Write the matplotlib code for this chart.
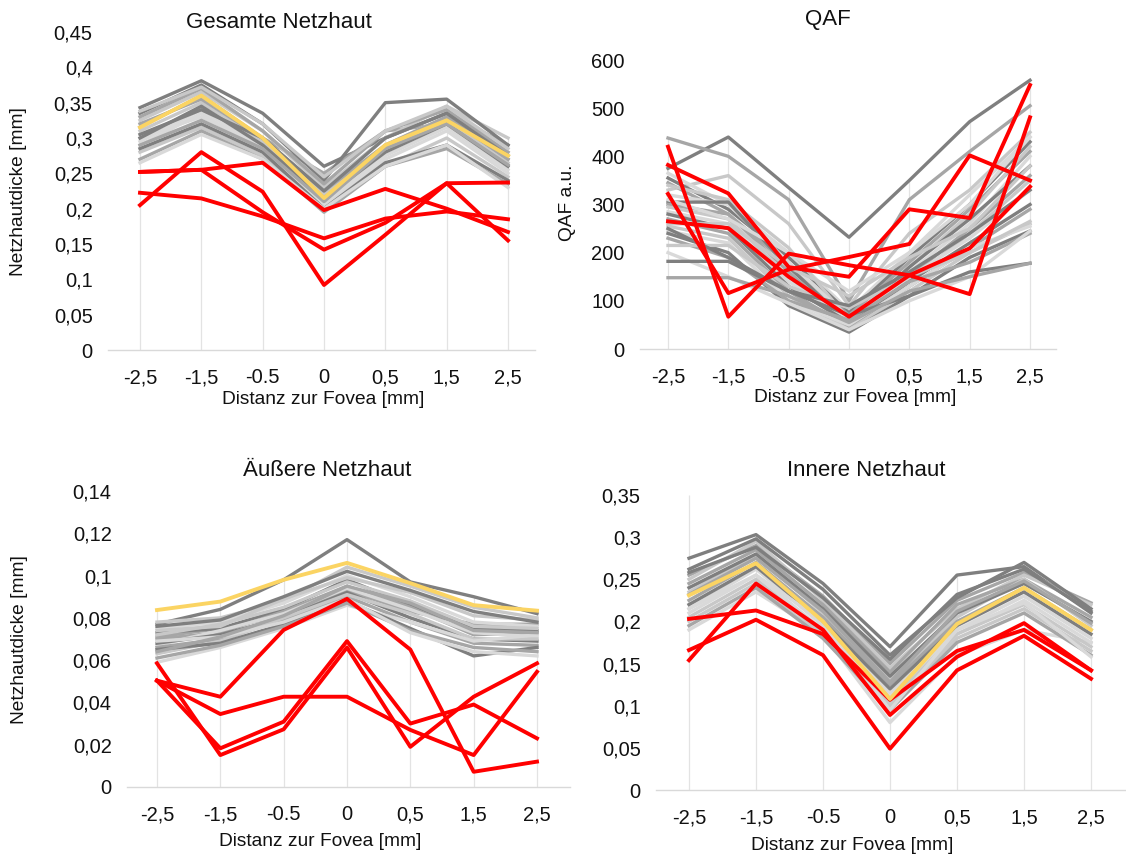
import matplotlib
matplotlib.use("Agg")
import matplotlib.pyplot as plt
from matplotlib.ticker import FuncFormatter, MultipleLocator

# ---- data -------------------------------------------------------------
positions = ["-2,5", "-1,5", "-0.5", "0", "0,5", "1,5", "2,5"]

gesamt_gray = [
    [0.343, 0.381, 0.335, 0.260, 0.300, 0.335, 0.290],
    [0.315, 0.360, 0.300, 0.250, 0.310, 0.320, 0.270],
    [0.325, 0.365, 0.310, 0.230, 0.300, 0.345, 0.300],
    [0.300, 0.330, 0.290, 0.215, 0.290, 0.330, 0.280],
    [0.335, 0.375, 0.320, 0.240, 0.350, 0.355, 0.290],
    [0.330, 0.370, 0.310, 0.235, 0.310, 0.340, 0.280],
    [0.310, 0.350, 0.295, 0.220, 0.285, 0.325, 0.265],
    [0.295, 0.340, 0.285, 0.210, 0.275, 0.315, 0.255],
    [0.300, 0.345, 0.290, 0.215, 0.280, 0.320, 0.260],
    [0.320, 0.355, 0.300, 0.225, 0.290, 0.330, 0.270],
    [0.280, 0.315, 0.275, 0.200, 0.260, 0.300, 0.245],
    [0.290, 0.335, 0.280, 0.205, 0.270, 0.310, 0.250],
    [0.285, 0.320, 0.280, 0.200, 0.265, 0.290, 0.240],
    [0.270, 0.310, 0.270, 0.195, 0.260, 0.285, 0.235],
    [0.338, 0.372, 0.320, 0.245, 0.310, 0.345, 0.285],
    [0.265, 0.305, 0.270, 0.200, 0.260, 0.290, 0.230],
    [0.305, 0.340, 0.300, 0.225, 0.300, 0.335, 0.275],
    [0.290, 0.325, 0.285, 0.210, 0.285, 0.320, 0.262],
]
gesamt_red = [
    [0.205, 0.280, 0.224, 0.092, 0.163, 0.236, 0.155],
    [0.252, 0.255, 0.265, 0.198, 0.228, 0.200, 0.167],
    [0.252, 0.255, 0.195, 0.142, 0.180, 0.236, 0.237],
    [0.2225, 0.2145, 0.189, 0.158, 0.186, 0.196, 0.185],
]
gesamt_mean = [0.315, 0.360, 0.300, 0.215, 0.290, 0.325, 0.275]

qaf_gray = [
    [375, 440, 335, 232, 350, 472, 558],
    [438, 400, 310, 100, 310, 410, 505],
    [330, 360, 260, 90, 240, 330, 450],
    [365, 300, 200, 80, 200, 320, 440],
    [355, 290, 190, 75, 190, 300, 430],
    [345, 280, 175, 70, 180, 290, 410],
    [340, 310, 210, 60, 170, 280, 420],
    [320, 300, 180, 65, 160, 260, 400],
    [305, 305, 170, 55, 170, 270, 380],
    [300, 280, 160, 50, 150, 250, 360],
    [295, 270, 150, 45, 140, 240, 350],
    [285, 260, 140, 60, 150, 230, 330],
    [280, 250, 130, 55, 140, 220, 300],
    [270, 240, 120, 45, 130, 210, 290],
    [255, 230, 110, 40, 120, 200, 260],
    [245, 220, 100, 50, 130, 210, 255],
    [240, 200, 90, 35, 110, 190, 245],
    [230, 190, 100, 60, 140, 180, 240],
    [215, 215, 130, 85, 150, 200, 265],
    [200, 150, 95, 40, 100, 150, 245],
    [182, 182, 120, 70, 110, 160, 178],
    [148, 148, 110, 55, 120, 150, 178],
    [260, 260, 170, 110, 190, 250, 380],
    [310, 270, 200, 120, 200, 300, 440],
    [250, 190, 120, 90, 160, 240, 330],
]
qaf_red = [
    [420, 67, 198, 174, 153, 114, 481],
    [382, 323, 170, 150, 290, 272, 548],
    [322, 116, 165, 191, 218, 402, 350],
    [265, 251, 150, 67, 153, 209, 337],
]

aussen_gray = [
    [0.077, 0.084, 0.098, 0.117, 0.097, 0.090, 0.082],
    [0.071, 0.075, 0.081, 0.093, 0.083, 0.077, 0.077],
    [0.078, 0.080, 0.088, 0.104, 0.095, 0.085, 0.080],
    [0.075, 0.078, 0.087, 0.100, 0.090, 0.078, 0.076],
    [0.073, 0.075, 0.084, 0.098, 0.086, 0.075, 0.074],
    [0.070, 0.073, 0.083, 0.095, 0.085, 0.072, 0.073],
    [0.072, 0.077, 0.085, 0.097, 0.088, 0.076, 0.075],
    [0.067, 0.074, 0.082, 0.094, 0.084, 0.073, 0.071],
    [0.068, 0.072, 0.080, 0.092, 0.080, 0.070, 0.069],
    [0.066, 0.070, 0.079, 0.090, 0.078, 0.068, 0.067],
    [0.063, 0.069, 0.080, 0.091, 0.082, 0.070, 0.070],
    [0.059, 0.066, 0.075, 0.086, 0.078, 0.069, 0.072],
    [0.065, 0.068, 0.077, 0.088, 0.075, 0.062, 0.066],
    [0.061, 0.067, 0.076, 0.087, 0.074, 0.066, 0.064],
    [0.074, 0.076, 0.089, 0.099, 0.092, 0.081, 0.079],
    [0.069, 0.071, 0.078, 0.089, 0.073, 0.064, 0.062],
    [0.076, 0.079, 0.090, 0.102, 0.093, 0.083, 0.078],
    [0.064, 0.071, 0.081, 0.095, 0.087, 0.074, 0.073],
]
aussen_red = [
    [0.0503, 0.0427, 0.0743, 0.0890, 0.0650, 0.0072, 0.0120],
    [0.0503, 0.0345, 0.0427, 0.0427, 0.0270, 0.0151, 0.0545],
    [0.0585, 0.0151, 0.0273, 0.0660, 0.0190, 0.0427, 0.0585],
    [0.0503, 0.0183, 0.0309, 0.0690, 0.0300, 0.0390, 0.0230],
]
aussen_mean = [0.0837, 0.0877, 0.0980, 0.1060, 0.0964, 0.0860, 0.0834]

innen_gray = [
    [0.275, 0.303, 0.245, 0.170, 0.255, 0.265, 0.210],
    [0.255, 0.290, 0.230, 0.150, 0.225, 0.258, 0.222],
    [0.250, 0.295, 0.225, 0.145, 0.215, 0.255, 0.220],
    [0.190, 0.235, 0.185, 0.080, 0.160, 0.190, 0.175],
    [0.262, 0.298, 0.238, 0.160, 0.228, 0.270, 0.215],
    [0.245, 0.285, 0.220, 0.140, 0.220, 0.250, 0.205],
    [0.235, 0.278, 0.210, 0.130, 0.205, 0.250, 0.195],
    [0.215, 0.262, 0.195, 0.115, 0.190, 0.230, 0.180],
    [0.240, 0.280, 0.215, 0.135, 0.210, 0.245, 0.200],
    [0.225, 0.270, 0.205, 0.125, 0.200, 0.240, 0.190],
    [0.200, 0.245, 0.180, 0.100, 0.180, 0.215, 0.165],
    [0.210, 0.255, 0.190, 0.110, 0.185, 0.225, 0.175],
    [0.220, 0.265, 0.200, 0.120, 0.195, 0.235, 0.185],
    [0.195, 0.240, 0.180, 0.095, 0.175, 0.210, 0.160],
    [0.205, 0.250, 0.185, 0.105, 0.185, 0.220, 0.170],
    [0.215, 0.255, 0.200, 0.095, 0.190, 0.222, 0.158],
    [0.258, 0.288, 0.228, 0.155, 0.232, 0.262, 0.212],
    [0.232, 0.275, 0.212, 0.128, 0.212, 0.248, 0.198],
]
innen_red = [
    [0.154, 0.245, 0.190, 0.089, 0.158, 0.198, 0.142],
    [0.203, 0.213, 0.185, 0.107, 0.165, 0.190, 0.142],
    [0.166, 0.202, 0.160, 0.049, 0.142, 0.183, 0.132],
]
innen_mean = [0.231, 0.269, 0.200, 0.108, 0.197, 0.240, 0.190]

# ---- style ------------------------------------------------------------
plt.rcParams["font.family"] = ["Liberation Sans", "DejaVu Sans"]
GRAYS = ["#7f7f7f", "#a6a6a6", "#c8c8c8", "#d9d9d9"]
RED = "#ff0000"
YELLOW = "#fbd463"
TXT = "#111111"
W, H = 1126, 858


def comma(v, pos):
    s = f"{v:.2f}".rstrip("0").rstrip(".")
    return s.replace(".", ",")


def panel(box, xspan, ylim, ystep, gray, red, mean, title, title_xy,
          xlabel_xy, ylabel=None, ylabel_xy=None, drop_top=None):
    left, right, top, bottom = box
    x0, x6 = xspan
    sp = (x6 - x0) / 6
    ax = fig.add_axes([left / W, 1 - bottom / H, (right - left) / W,
                       (bottom - top) / H])
    xs = list(range(len(positions)))

    # drop lines from the highest point down to the axis
    allv = gray + red + ([mean] if mean else [])
    tops = [max(v[i] for v in allv) for i in xs]
    if drop_top is not None:
        tops[0] = drop_top
    ax.vlines(xs, 0, tops, color="#e3e3e3", lw=0.9, zorder=0)

    for i, vals in enumerate(gray):
        ax.plot(xs, vals, color=GRAYS[i % len(GRAYS)], lw=2.4, zorder=2)
    for vals in red:
        ax.plot(xs, vals, color=RED, lw=2.8, zorder=3)
    if mean:
        ax.plot(xs, mean, color=YELLOW, lw=2.8, zorder=4)

    ax.set_xlim(-(x0 - left) / sp, 6 + (right - x6) / sp)
    ax.set_ylim(*ylim)
    ax.yaxis.set_major_locator(MultipleLocator(ystep))
    ax.yaxis.set_major_formatter(FuncFormatter(comma))
    ax.set_xticks(xs)
    ax.set_xticklabels(positions)
    for s in ["top", "right", "left"]:
        ax.spines[s].set_visible(False)
    ax.spines["bottom"].set_color("#d9d9d9")
    ax.spines["bottom"].set_linewidth(1.0)
    ax.tick_params(length=0, labelsize=14.5, colors=TXT)
    ax.tick_params(axis="y", pad=11)
    ax.tick_params(axis="x", pad=13)

    fig.text(title_xy[0] / W, 1 - title_xy[1] / H, title, ha="center",
             va="center", fontsize=16, color=TXT)
    fig.text(xlabel_xy[0] / W, 1 - xlabel_xy[1] / H,
             "Distanz zur Fovea [mm]", ha="center", va="center",
             fontsize=13.8, color=TXT)
    if ylabel:
        fig.text(ylabel_xy[0] / W, 1 - ylabel_xy[1] / H, ylabel,
                 ha="center", va="center", rotation=90, fontsize=13.8,
                 color=TXT)
    return ax


fig = plt.figure(figsize=(W / 100, H / 100), dpi=100)

panel((108, 535, 32, 350), (140, 508), (0, 0.45), 0.05,
      gesamt_gray, gesamt_red, gesamt_mean, "Gesamte Netzhaut", (279, 22),
      (323, 400), "Netzhautdicke [mm]", (19, 192))
panel((640, 1056, 60, 349), (668, 1030), (0, 600), 100,
      qaf_gray, qaf_red, None, "QAF", (828, 20),
      (855, 398), "QAF a.u.", (568, 203))
panel((127, 570, 491, 787), (157, 537), (0, 0.14), 0.02,
      aussen_gray, aussen_red, aussen_mean, "\u00c4u\u00dfere Netzhaut", (327, 471),
      (320, 842), "Netzhautdicke [mm]", (20, 640))
panel((656, 1126, 495, 790), (689, 1091), (0, 0.35), 0.05,
      innen_gray, innen_red, innen_mean, "Innere Netzhaut", (866, 471),
      (852, 845), drop_top=0.35)

fig.savefig("out.png", dpi=100)
